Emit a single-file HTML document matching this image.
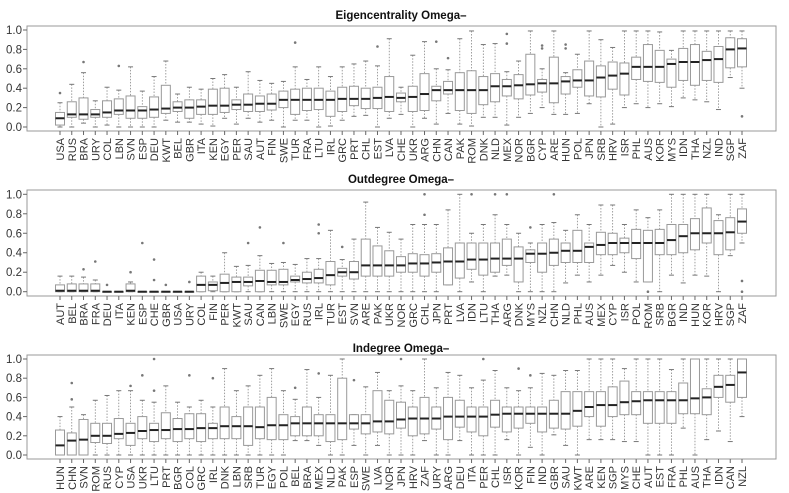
<!DOCTYPE html>
<html><head><meta charset="utf-8">
<style>
html,body{margin:0;padding:0;background:#fff;}
svg{display:block;font-family:"Liberation Sans",sans-serif;}
</style></head>
<body>
<svg id="chart" width="789" height="493" viewBox="0 0 789 493" xmlns="http://www.w3.org/2000/svg"></svg>
<script>
// ---------- Panel 1: Eigencentrality Omega- ----------
const eigCats = ["USA","RUS","BRA","URY","COL","LBN","SVN","ESP","DEU","KWT","BEL","GBR","ITA","KEN","EGY","PER","SAU","AUT","FIN","SWE","TUR","FRA","LTU","IRL","GRC","PRT","CHL","EST","LVA","CHE","UKR","ARG","CHN","CAN","PAK","ROM","DNK","NLD","MEX","NOR","BGR","CYP","ARE","HUN","POL","JPN","SRB","HRV","ISR","PHL","AUS","KOR","MYS","IDN","THA","NZL","IND","SGP","ZAF"];
const eigMed = [.09,.13,.13,.13,.15,.17,.17,.17,.18,.19,.20,.20,.21,.22,.22,.23,.23,.24,.24,.28,.28,.28,.28,.28,.29,.29,.29,.30,.31,.30,.31,.34,.38,.38,.38,.38,.38,.42,.42,.43,.44,.45,.45,.47,.48,.48,.51,.53,.55,.62,.62,.62,.65,.67,.67,.69,.70,.80,.81];
const eigQ1 = [.02,.10,.08,.10,.10,.13,.09,.09,.10,.14,.16,.09,.13,.13,.15,.18,.16,.16,.175,.20,.13,.17,.18,.11,.16,.22,.19,.19,.16,.26,.16,.17,.27,.34,.17,.14,.23,.26,.32,.29,.33,.36,.25,.34,.41,.32,.31,.39,.33,.49,.47,.46,.41,.48,.43,.48,.46,.61,.62];
const eigQ3 = [.15,.26,.30,.18,.27,.29,.32,.21,.31,.43,.26,.28,.28,.39,.40,.28,.34,.32,.34,.37,.39,.40,.40,.37,.41,.42,.40,.41,.52,.35,.42,.55,.42,.47,.56,.58,.52,.55,.49,.54,.75,.49,.72,.52,.59,.68,.63,.67,.66,.72,.85,.79,.70,.81,.85,.78,.83,.92,.91];
const eigLo = [0,0,.04,0,.02,0,0,0,0,.07,.05,.05,.03,.01,.09,.03,.09,.05,.07,0,.07,.07,0,.01,.07,.11,.12,0,.09,.13,0,.09,.03,.14,.03,.01,.10,.10,.02,.10,.14,.20,.13,.13,.14,.24,0,.03,.20,.24,.20,.24,.21,.30,.28,.26,.18,.51,.40];
const eigHi = [.25,.44,.56,.27,.41,.38,.62,.37,.52,.68,.34,.41,.39,.50,.54,.41,.57,.48,.45,.47,.62,.49,.62,.52,.62,.65,.68,.63,.91,.41,.74,.88,.60,.59,.91,.99,.85,.86,.57,.68,.99,.60,.99,.56,.75,.99,.90,.82,.99,.99,.99,.98,.79,.99,.99,.99,.99,.99,.99];
const eigOutIdx = [0,2,5,20,27,32,33,38,38,41,41,43,43,58];
const eigOutVal = [.35,.67,.63,.87,.83,.88,.71,.96,.86,.81,.84,.85,.81,.11];

// ---------- Panel 2: Outdegree Omega- ----------
const outCats = ["AUT","BEL","BRA","FRA","DEU","ITA","KEN","ESP","CHE","GBR","USA","URY","COL","FIN","PER","KWT","SAU","CAN","LBN","SWE","EGY","RUS","IRL","TUR","EST","SVN","ARE","PAK","UKR","NOR","GRC","CHL","JPN","PRT","LVA","IDN","LTU","THA","ARG","DNK","MYS","NZL","CHN","NLD","PHL","AUS","MEX","CYP","ISR","POL","ROM","SRB","BGR","IND","HUN","KOR","HRV","SGP","ZAF"];
const outMed = [.01,.01,.01,.01,0,0,.01,0,0,0,0,0,.07,.07,.09,.10,.10,.11,.10,.10,.12,.13,.14,.17,.20,.20,.27,.27,.27,.27,.29,.29,.30,.31,.31,.33,.33,.34,.34,.34,.39,.39,.40,.42,.42,.46,.48,.50,.50,.50,.50,.50,.53,.57,.60,.60,.60,.61,.72];
const outQ1 = [0,0,0,0,0,0,0,0,0,0,0,0,0,.01,0,0,.06,0,.07,.07,.10,.09,.09,.07,.16,.13,.16,.16,.16,.20,.20,.16,.20,.07,.14,.23,.17,.20,.27,.10,.30,.20,.27,.30,.30,.30,.38,.38,.40,.34,.10,.38,.38,.40,.43,.50,.38,.43,.60];
const outQ3 = [.07,.08,.08,.08,0,0,.08,0,0,0,0,0,.16,.10,.18,.15,.15,.22,.22,.23,.16,.20,.23,.31,.24,.31,.54,.47,.42,.36,.39,.38,.39,.45,.50,.50,.50,.50,.54,.46,.43,.50,.54,.50,.63,.50,.61,.60,.55,.64,.63,.64,.69,.69,.75,.86,.73,.76,.85];
const outLo = [0,0,0,0,0,0,0,0,0,0,0,0,0,0,0,0,0,0,0,0,0,0,0,0,0,0,0,0,0,0,0,0,0,.07,0,.10,0,.16,.17,0,0,0,0,.09,.17,.10,.17,.27,.20,.10,.10,0,.17,.09,.17,.16,0,.37,.50];
const outHi = [.16,.16,.15,.12,0,0,.10,0,0,0,0,0,.20,.16,.40,.26,.27,.37,.29,.30,.28,.34,.34,.63,.33,.54,.92,.66,.61,.54,.69,.69,.69,.84,1,.60,.69,.79,.69,.60,.50,.69,.71,.63,.79,.69,.89,.89,.69,.84,.76,.84,1,1,1,1,.79,1,1];
const outOutIdx = [2,3,4,6,7,8,8,9,11,16,17,19,22,22,24,31,31,35,37,38,40,42,50,58,58];
const outOutVal = [.23,.31,.07,.20,.50,.33,.12,.07,.10,.50,.66,.50,.60,.69,.46,1,.79,1,1,1,.66,1,0,.11,0];

// ---------- Panel 3: Indegree Omega- ----------
const inCats = ["HUN","CHN","SVN","ROM","RUS","CYP","USA","UKR","LTU","PRT","BGR","COL","GRC","IRL","DNK","LBN","SRB","TUR","EGY","POL","BEL","BRA","MEX","NLD","PAK","ESP","SWE","LVA","NOR","JPN","HRV","ZAF","URY","ARG","DEU","ITA","PER","CHL","ISR","KOR","FIN","IND","GBR","SAU","KWT","ARE","KEN","SGP","MYS","CHE","AUT","EST","FRA","PHL","AUS","THA","IDN","CAN","NZL"];
const inMed = [.10,.15,.16,.20,.20,.22,.23,.25,.26,.26,.27,.27,.28,.28,.30,.30,.30,.29,.31,.31,.33,.33,.33,.33,.33,.33,.33,.35,.35,.37,.38,.38,.38,.40,.40,.40,.40,.42,.43,.43,.43,.43,.43,.43,.46,.50,.52,.52,.55,.56,.57,.57,.57,.57,.59,.60,.71,.73,.86];
const inQ1 = [0,0,0,.13,.12,.17,.10,.17,.14,.17,.14,.17,.14,.17,.17,.17,.10,.17,.16,.16,.20,.20,.20,.14,.16,.27,.22,.24,.22,.28,.20,.22,.27,.16,.29,.24,.20,.29,.24,.28,.33,.24,.28,.27,.30,.40,.30,.40,.42,.42,.33,.33,.33,.43,.43,.42,.60,.55,.60];
const inQ3 = [.26,.23,.37,.33,.33,.38,.33,.40,.33,.44,.38,.43,.43,.33,.50,.40,.50,.50,.60,.42,.40,.50,.42,.42,.80,.42,.42,.67,.57,.55,.50,.60,.50,.60,.57,.50,.50,.57,.50,.50,.50,.50,.57,.66,.66,.66,.66,.71,.77,.66,.66,.66,.66,.75,1,.69,.83,.83,1];
const inLo = [0,0,0,0,0,0,0,0,0,0,0,0,0,0,0,0,0,0,0,0,.15,.15,.10,0,0,.10,0,.10,0,0,0,.15,0,0,.15,0,0,0,.16,0,.08,0,.21,.10,0,.16,.16,.16,.14,.14,0,0,0,.28,0,.16,.25,.14,.40];
const inHi = [.40,.50,.42,.57,.62,.67,.67,.57,.55,.72,.55,.50,.57,.50,.90,.67,.72,.83,.90,.67,.58,.89,.60,.83,1,.42,.71,.86,.67,.72,.67,1,.70,.86,.83,.70,.78,.88,.70,.67,.70,.85,.83,.88,.88,1,1,1,.90,1,1,1,.89,1,1,1,1,1,1];
const inOutIdx = [1,1,6,7,8,8,11,13,20,22,25,29,36,39,40];
const inOutVal = [.58,.75,.72,.83,1,.67,.83,.80,.70,.85,.78,1,1,.90,.83];

const yTicks = [0,0.2,0.4,0.6,0.8,1.0];
const yTickLabels = ["0.0","0.2","0.4","0.6","0.8","1.0"];

const NS = "http://www.w3.org/2000/svg";
const svg = document.getElementById("chart");
function mk(tag, attrs, parent){
  const e = document.createElementNS(NS, tag);
  for (const k in attrs) e.setAttribute(k, attrs[k]);
  (parent||svg).appendChild(e);
  return e;
}

const X0 = 27, X1 = 776, FIRST = 60, LAST = 742;

function drawPanel(p){
  const g = mk("g", {});
  
  
  const y = v => p.y0 + (p.y1 - p.y0) * v;
  const n = p.cats.length;
  const x = i => FIRST + (LAST - FIRST) * i / (n - 1);

  const title = mk("text", {x: 401, y: p.titleY, "text-anchor": "middle", "font-size": 11.5, "font-weight": "bold", fill: "#111"}, g);
  
  
  title.textContent = p.title;

  const frame = mk("rect", {x: X0, y: p.top, width: X1 - X0, height: p.bottom - p.top, fill: "none", stroke: "#999", "stroke-width": 1}, g);
  
  

  const yax = mk("g", {}, g);
  
  
  yTicks.forEach((t, k) => {
    mk("line", {x1: X0 - 4, x2: X0, y1: y(t), y2: y(t), stroke: "#666", "stroke-width": 1}, yax);
    const tl = mk("text", {x: X0 - 5, y: y(t) + 4, "text-anchor": "end", "font-size": 11.5, fill: "#333"}, yax);
    
    
    tl.textContent = yTickLabels[k];
  });

  for (let i = 0; i < n; i++){
    const cx = x(i), w = 4.5;
    const bg = mk("g", {}, g);
    
    
    mk("line", {x1: cx, x2: cx, y1: y(p.hi[i]), y2: y(p.q3[i]), stroke: "#888", "stroke-width": 0.8, "stroke-dasharray": "1.5,1.5"}, bg);
    mk("line", {x1: cx, x2: cx, y1: y(p.q1[i]), y2: y(p.lo[i]), stroke: "#888", "stroke-width": 0.8, "stroke-dasharray": "1.5,1.5"}, bg);
    mk("line", {x1: cx - 2.5, x2: cx + 2.5, y1: y(p.hi[i]), y2: y(p.hi[i]), stroke: "#777", "stroke-width": 1}, bg);
    mk("line", {x1: cx - 2.5, x2: cx + 2.5, y1: y(p.lo[i]), y2: y(p.lo[i]), stroke: "#777", "stroke-width": 1}, bg);
    const top = Math.min(y(p.q1[i]), y(p.q3[i])), h = Math.abs(y(p.q1[i]) - y(p.q3[i]));
    mk("rect", {x: cx - w, y: top, width: 2 * w, height: Math.max(h, 0.5), fill: "#fff", stroke: "#999", "stroke-width": 1}, bg);
    mk("line", {x1: cx - w, x2: cx + w, y1: y(p.med[i]), y2: y(p.med[i]), stroke: "#222", "stroke-width": 2}, bg);
    mk("line", {x1: cx, x2: cx, y1: p.bottom, y2: p.bottom + 4, stroke: "#666", "stroke-width": 1}, g);
    const lab = mk("text", {x: 0, y: 0, "text-anchor": "end", "font-size": 11, fill: "#333", transform: "translate(" + (cx + 4) + "," + (p.bottom + 7) + ") rotate(-90)"}, g);
    
    
    lab.textContent = p.cats[i];
  }
  for (let k = 0; k < p.outIdx.length; k++){
    const o = mk("circle", {cx: x(p.outIdx[k]), cy: y(p.outVal[k]), r: 1.3, fill: "#777"}, g);
    
    
  }
}

drawPanel({key: "eigencentrality", title: "Eigencentrality Omega\u2013", titleY: 19, top: 26, bottom: 131, y0: 127, y1: 30,
  cats: eigCats, med: eigMed, q1: eigQ1, q3: eigQ3, lo: eigLo, hi: eigHi, outIdx: eigOutIdx, outVal: eigOutVal});
drawPanel({key: "outdegree", title: "Outdegree Omega\u2013", titleY: 183, top: 190, bottom: 296, y0: 291.7, y1: 194.3,
  cats: outCats, med: outMed, q1: outQ1, q3: outQ3, lo: outLo, hi: outHi, outIdx: outOutIdx, outVal: outOutVal});
drawPanel({key: "indegree", title: "Indegree Omega\u2013", titleY: 352, top: 355, bottom: 459, y0: 455, y1: 359,
  cats: inCats, med: inMed, q1: inQ1, q3: inQ3, lo: inLo, hi: inHi, outIdx: inOutIdx, outVal: inOutVal});
</script>
</body></html>
